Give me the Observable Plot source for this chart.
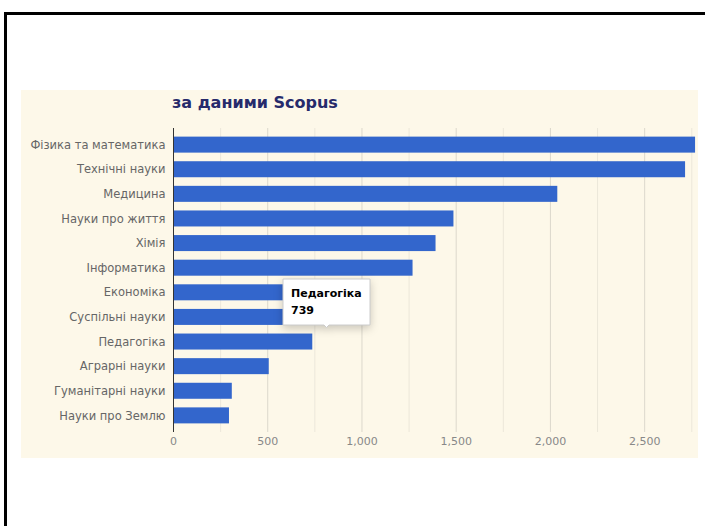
<!DOCTYPE html>
<html>
<head>
<meta charset="utf-8">
<script src="https://cdn.jsdelivr.net/npm/d3@7"></script>
<script src="https://cdn.jsdelivr.net/npm/@observablehq/plot@0.6"></script>
<style>
  body { margin: 0; background: #fff; }
  #frame { position: absolute; left: 4px; top: 12px; width: 900px; height: 700px;
           border-left: 3px solid #000; border-top: 3px solid #000; }
  #panel { position: absolute; left: 21px; top: 90px; width: 677px; height: 368px; background: #fdf8e9; }
  #title { position: absolute; left: 151px; top: 3px; font: bold 16px "DejaVu Sans", Verdana, sans-serif; color: #262a6b; white-space: nowrap; }
  #chart { position: absolute; left: 0; top: 28px; }
</style>
</head>
<body>
<div id="frame"></div>
<div id="panel">
  <div id="title">за даними Scopus</div>
  <div id="chart"></div>
</div>
<script>
const categories = ["Фізика та математика", "Технічні науки", "Медицина", "Науки про життя", "Хімія", "Інформатика", "Економіка", "Суспільні науки", "Педагогіка", "Аграрні науки", "Гуманітарні науки", "Науки про Землю"];
const values = [2770, 2717, 2039, 1488, 1393, 1271, 930, 880, 739, 508, 312, 297];
const xTicks = [0, 500, 1000, 1500, 2000, 2500];
const minorTicks = [250, 750, 1250, 1750, 2250, 2750];
const tipItem = [{name: "Педагогіка", value: 739}];

const data = categories.map((name, i) => ({name, value: values[i]}));

const chart = Plot.plot({
  width: 677,
  height: 340,
  marginTop: 10,
  marginBottom: 26,
  marginLeft: 152,
  marginRight: 2,
  style: {background: "transparent", fontFamily: "'DejaVu Sans', Verdana, sans-serif", fontSize: "11px"},
  x: {domain: [0, 2775], label: null},
  y: {domain: categories, padding: 0.35, round: false, label: null},
  marks: [
    Plot.gridX(minorTicks, {stroke: "#ece7da", strokeOpacity: 1}),
    Plot.gridX(xTicks.slice(1), {stroke: "#dcd8cc", strokeOpacity: 1}),
    Plot.barX(data, {x: "value", y: "name", fill: "#3366cc"}),
    Plot.ruleX([0], {stroke: "#333"}),
    Plot.axisX(xTicks, {tickSize: 0, tickPadding: 5, tickFormat: d3.format(","), color: "#888", fontSize: 11, label: null}),
    Plot.axisY({tickSize: 0, tickPadding: 8, color: "#666", fontSize: 11.5, label: null}),
    Plot.tip(tipItem, {
      x: "value", y: "name",
      title: d => `${d.name}\n${d.value}`,
      anchor: "bottom", dx: 14, dy: -15,
      pointerSize: 5,
      fontWeight: "bold", fontSize: 11, lineHeight: 1.5,
      fill: "white", stroke: "#ccc"
    })
  ]
});
document.getElementById("chart").appendChild(chart);
</script>
</body>
</html>
